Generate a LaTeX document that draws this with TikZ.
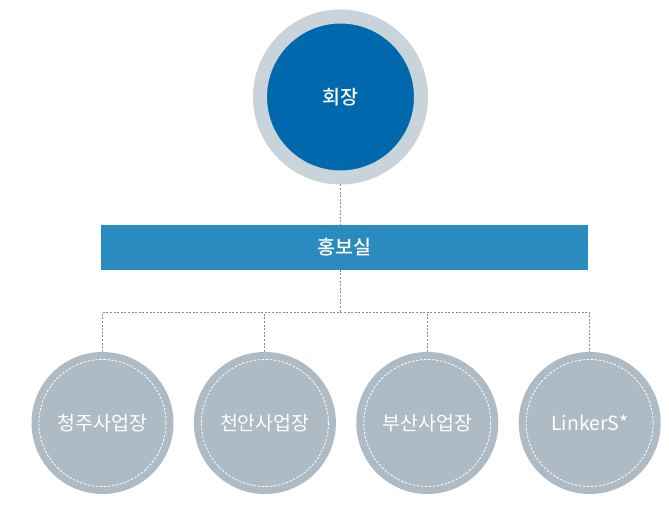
\documentclass[tikz,border=0pt]{standalone}
\usepackage{fontspec}
\setmainfont{Noto Sans CJK KR}
\newfontfamily\medfont{Noto Sans CJK KR Medium}
\usepackage{tikz}
\usetikzlibrary{positioning, calc}
\usepackage{xcolor}
\definecolor{ringgray}{HTML}{C9D3DA}
\definecolor{chairblue}{HTML}{0069AD}
\definecolor{barblue}{HTML}{2A8BBE}
\definecolor{sitegray}{HTML}{AEBAC4}
\definecolor{linegray}{HTML}{8A8A8A}

\begin{document}
\begin{tikzpicture}[
        x=1pt, y=-1pt,
        node distance=20pt,
        every node/.style={text=white, inner sep=0pt},
        chairnode/.style={circle, fill=chairblue, draw=ringgray, line width=14pt, minimum size=161pt, font=\fontsize{19.5}{19.5}\medfont},
        barnode/.style={rectangle, fill=barblue, minimum width=487pt, minimum height=45pt, font=\fontsize{19.5}{19.5}\medfont},
        sitenode/.style={circle, fill=sitegray, minimum size=142pt, font=\fontsize{19.5}{19.5}\selectfont},
        conn/.style={draw=linegray, line width=0.9pt, dash pattern=on 2pt off 1.6pt}
    ]
        \useasboundingbox (0,0) rectangle (669,529);

        \node[chairnode] (chair) at (340.5,97) {회장};
        \node[barnode, below=40pt of chair, xshift=4pt] (pr) {홍보실};

        \node[sitenode] (site1) at (102.5,423) {청주사업장};
        \node[sitenode, right=of site1] (site2) {천안사업장};
        \node[sitenode, right=of site2] (site3) {부산사업장};
        \node[sitenode, right=of site3] (site4) {LinkerS*};

        \foreach \s in {site1, site2, site3, site4}
            \draw[white, line width=0.8pt, dash pattern=on 2.5pt off 1.5pt] (\s.center) circle (63.5);

        \coordinate (hub) at ($(chair.south)+(0,128)$);

        \draw[conn] (chair) -- (chair |- pr.north);
        \draw[conn] (chair |- pr.south) -- (hub);
        \draw[conn] (site1.north) |- (hub) -| (site4.north);
        \draw[conn] (site2.north) -- (site2.north |- hub);
        \draw[conn] (site3.north) -- (site3.north |- hub);
    \end{tikzpicture}
\end{document}
